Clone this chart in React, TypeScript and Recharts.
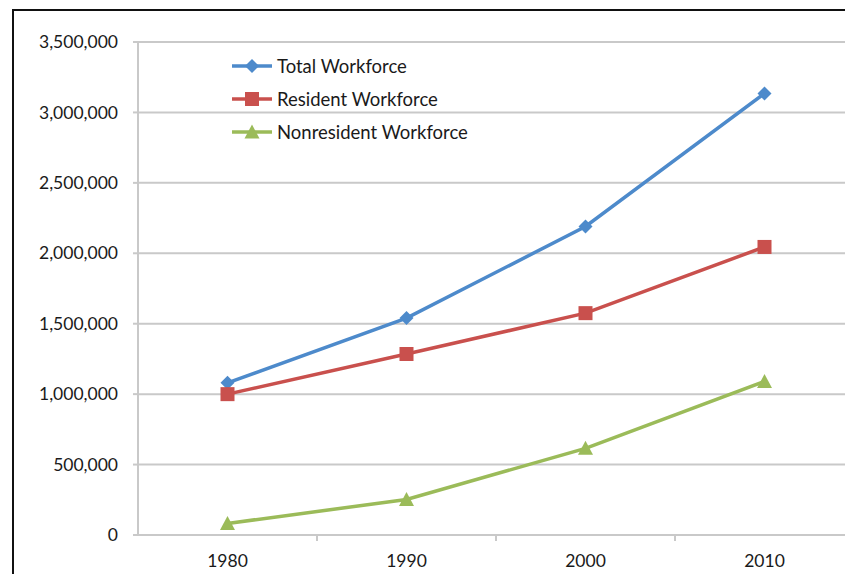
import React from "react";
import {
  LineChart,
  Line,
  XAxis,
  YAxis,
  CartesianGrid,
  Legend,
} from "recharts";

const years = ["1980", "1990", "2000", "2010"];
const totalWorkforce = [1080000, 1540000, 2190000, 3135000];
const residentWorkforce = [1000000, 1285000, 1575000, 2045000];
const nonresidentWorkforce = [82000, 252000, 615000, 1090000];
const yTicks = [0, 500000, 1000000, 1500000, 2000000, 2500000, 3000000, 3500000];

const data = years.map((year, i) => ({
  year,
  total: totalWorkforce[i],
  resident: residentWorkforce[i],
  nonresident: nonresidentWorkforce[i],
}));

const FONT = "Lato, 'Open Sans', sans-serif";
const GRID = "#c9c9c9";
const BLUE = "#4d8acb";
const RED = "#c9504d";
const GREEN = "#9bbb59";

const CHART_W = 870;
const CHART_H = 574;
const PLOT_LEFT = 138;
const PLOT_RIGHT = 854;
const BAND = (PLOT_RIGHT - PLOT_LEFT) / years.length;

function Marker({ type, cx, cy, color }: { type: string; cx: number; cy: number; color: string }) {
  if (cx == null || cy == null) return null;
  if (type === "diamond") {
    const r = 7;
    return (
      <path
        d={`M${cx},${cy - r} L${cx + r},${cy} L${cx},${cy + r} L${cx - r},${cy} Z`}
        fill={color}
      />
    );
  }
  if (type === "square") {
    const s = 7;
    return <rect x={cx - s} y={cy - s} width={s * 2} height={s * 2} fill={color} />;
  }
  const h = 7.5;
  return (
    <path
      d={`M${cx},${cy - h} L${cx + h},${cy + h - 1} L${cx - h},${cy + h - 1} Z`}
      fill={color}
    />
  );
}

const series = [
  { key: "total", name: "Total Workforce", color: BLUE, marker: "diamond" },
  { key: "resident", name: "Resident Workforce", color: RED, marker: "square" },
  { key: "nonresident", name: "Nonresident Workforce", color: GREEN, marker: "triangle" },
];

function XTick(props: any) {
  const { x, y, payload } = props;
  const axisY = y - 8;
  return (
    <g>
      <line x1={x + BAND / 2} x2={x + BAND / 2} y1={axisY} y2={axisY + 6} stroke={GRID} strokeWidth={2} />
      <text
        x={x}
        y={axisY + 32}
        textAnchor="middle"
        fontFamily={FONT}
        fontSize={17.5}
        fill="#1a1a1a"
      >
        {payload.value}
      </text>
    </g>
  );
}

function LegendBox() {
  return (
    <div style={{ fontFamily: FONT, fontSize: 18.5, color: "#1a1a1a" }}>
      {series.map((s) => (
        <div key={s.key} style={{ display: "flex", alignItems: "center", height: 33 }}>
          <svg width={44} height={20} style={{ marginRight: 1 }}>
            <line x1={0} x2={40} y1={10} y2={10} stroke={s.color} strokeWidth={3.5} />
            <Marker type={s.marker} cx={20} cy={10} color={s.color} />
          </svg>
          <span>{s.name}</span>
        </div>
      ))}
    </div>
  );
}

export default function App() {
  return (
    <div
      style={{
        position: "absolute",
        left: 0,
        top: 0,
        width: 845,
        height: 574,
        overflow: "hidden",
        background: "#fff",
      }}
    >
      <div
        style={{
          position: "absolute",
          left: 12,
          top: 9,
          width: 900,
          height: 700,
          borderLeft: "2px solid #111",
          borderTop: "2px solid #111",
        }}
      />
      <div style={{ position: "absolute", left: 0, top: 0 }}>
        <LineChart
          width={CHART_W}
          height={CHART_H}
          data={data}
          margin={{ top: 42, right: CHART_W - PLOT_RIGHT, left: 0, bottom: 0 }}
        >
          <CartesianGrid horizontal vertical={false} stroke={GRID} strokeWidth={2} />
          <XAxis
            dataKey="year"
            scale="band"
            height={39}
            axisLine={{ stroke: GRID, strokeWidth: 2 }}
            tickLine={false}
            tick={<XTick />}
            interval={0}
          />
          <YAxis
            width={PLOT_LEFT}
            domain={[0, 3500000]}
            ticks={yTicks}
            tickFormatter={(v: number) => v.toLocaleString("en-US")}
            axisLine={{ stroke: GRID, strokeWidth: 2 }}
            tickLine={{ stroke: GRID, strokeWidth: 2 }}
            tickSize={5}
            tickMargin={15}
            tick={{ fontFamily: FONT, fontSize: 17.5, fill: "#1a1a1a" }}
          />
          <Legend
            layout="vertical"
            verticalAlign="middle"
            align="center"
            content={<LegendBox />}
            wrapperStyle={{ left: 232, top: 49, width: 320 }}
          />
          {series.map((s) => (
            <Line
              key={s.key}
              type="linear"
              dataKey={s.key}
              name={s.name}
              stroke={s.color}
              strokeWidth={3.5}
              isAnimationActive={false}
              dot={(p: any) => (
                <Marker key={`${s.key}-${p.index}`} type={s.marker} cx={p.cx} cy={p.cy} color={s.color} />
              )}
              activeDot={false}
            />
          ))}
        </LineChart>
      </div>
    </div>
  );
}
